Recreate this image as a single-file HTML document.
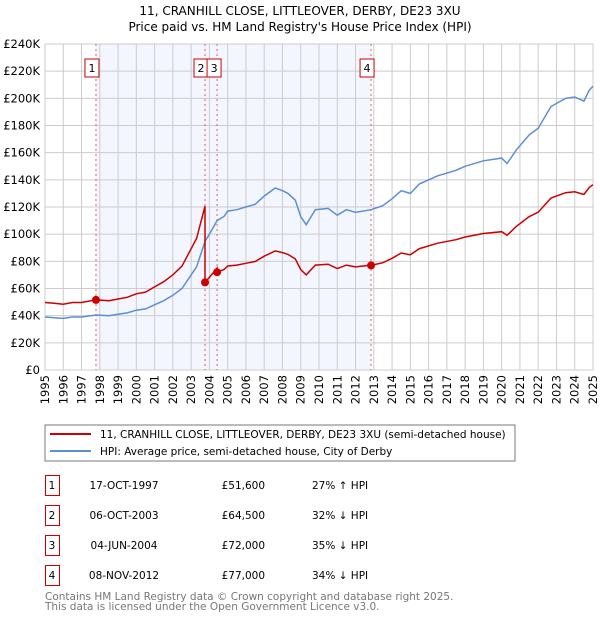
<!DOCTYPE html>
<html><head><meta charset="utf-8"><style>
body{margin:0;background:#fff;font-family:"DejaVu Sans","Liberation Sans",sans-serif}
svg text{font-family:"DejaVu Sans","Liberation Sans",sans-serif}
</style></head><body>
<svg id="chart" width="600" height="620" xmlns="http://www.w3.org/2000/svg">
<text x="300" y="15" text-anchor="middle" font-size="12">11, CRANHILL CLOSE, LITTLEOVER, DERBY, DE23 3XU</text>
<text x="300" y="31" text-anchor="middle" font-size="12">Price paid vs. HM Land Registry's House Price Index (HPI)</text>
<g id="plot"></g>
<rect x="45" y="425" width="470" height="36" fill="none" stroke="#777"/>
<line x1="50" y1="434" x2="91" y2="434" stroke="#cc0000" stroke-width="2"/>
<text x="100" y="438" font-size="10.5">11, CRANHILL CLOSE, LITTLEOVER, DERBY, DE23 3XU (semi-detached house)</text>
<line x1="50" y1="451" x2="91" y2="451" stroke="#5b8fd4" stroke-width="2"/>
<text x="100" y="455" font-size="10.5">HPI: Average price, semi-detached house, City of Derby</text>
<g id="table" font-size="10.5"></g>
<text x="45" y="600" font-size="10.5" fill="#777">Contains HM Land Registry data © Crown copyright and database right 2025.</text>
<text x="45" y="610" font-size="10.5" fill="#777">This data is licensed under the Open Government Licence v3.0.</text>
</svg>
<script>
const hpiYears=[1995,1995.5,1996,1996.5,1997,1997.8,1998.5,1999,1999.5,2000,2000.5,2001,2001.5,2002,2002.5,2003,2003.3,2003.77,2004,2004.42,2004.8,2005,2005.5,2006,2006.5,2007,2007.6,2008,2008.3,2008.7,2009,2009.3,2009.8,2010.5,2011,2011.5,2012,2012.85,2013.5,2014,2014.5,2015,2015.5,2016.5,2017.5,2018,2019,2020,2020.3,2020.8,2021.5,2022,2022.7,2023.5,2024,2024.5,2024.8,2025];
const hpiValues=[39,38.5,38,39,39,40.5,40,41,42,44,45,48,51,55,60,70,76,95,100,110,113,117,118,120,122,128,134,132,130,125,113,107,118,119,114,118,116,118,121,126,132,130,137,143,147,150,154,156,152,162,173,178,194,200,201,198,206,209];
const saleDates=[1997.79,2003.76,2004.42,2012.85];
const salePrices=[51.6,64.5,72,77];
const saleLabels=["1","2","3","4"];
const saleDateText=["17-OCT-1997","06-OCT-2003","04-JUN-2004","08-NOV-2012"];
const salePriceText=["£51,600","£64,500","£72,000","£77,000"];
const saleHpiText=["27% ↑ HPI","32% ↓ HPI","35% ↓ HPI","34% ↓ HPI"];
const yTicks=[0,20,40,60,80,100,120,140,160,180,200,220,240];
const xTicks=[1995,1996,1997,1998,1999,2000,2001,2002,2003,2004,2005,2006,2007,2008,2009,2010,2011,2012,2013,2014,2015,2016,2017,2018,2019,2020,2021,2022,2023,2024,2025];

const L=45,R=593,T=44,B=370;
const X=t=>L+(t-1995)/30*(R-L);
const Y=v=>B-v/240*(B-T);
const NS="http://www.w3.org/2000/svg";
const g=document.getElementById('plot');
function mk(tag,attrs,parent){const e=document.createElementNS(NS,tag);for(const k in attrs)e.setAttribute(k,attrs[k]);(parent||g).appendChild(e);return e;}
function hpiAt(t){for(let i=0;i<hpiYears.length-1;i++){if(t<=hpiYears[i+1]){const f=(t-hpiYears[i])/(hpiYears[i+1]-hpiYears[i]);return hpiValues[i]+f*(hpiValues[i+1]-hpiValues[i]);}}return hpiValues[hpiValues.length-1];}

let e=mk('rect',{x:X(saleDates[0]),y:T,width:X(saleDates[3])-X(saleDates[0]),height:B-T,fill:'#f3f6fe'});


yTicks.forEach(v=>{
 let l=mk('line',{x1:L,x2:R,y1:Y(v),y2:Y(v),stroke:'#ccc'});
 
 
 let t=mk('text',{x:L-5,y:Y(v)+4,'text-anchor':'end','font-size':'11.5'});
 
 
 t.textContent=v===0?'£0':'£'+v+'K';
});
xTicks.forEach(v=>{
 let l=mk('line',{x1:X(v),x2:X(v),y1:T,y2:B,stroke:'#ccc'});
 
 
 const tx=X(v)+4, ty=B+5;
 let t=mk('text',{x:tx,y:ty,'text-anchor':'end','font-size':'11.5',transform:'rotate(-90 '+tx+' '+ty+')'});
 
 
 t.textContent=v;
});
e=mk('rect',{x:L,y:T,width:R-L,height:B-T,fill:'none',stroke:'#ccc'});



const boxShift=[-4,-4,-3,-4];
saleDates.forEach((d,i)=>{
 let l=mk('line',{x1:X(d),x2:X(d),y1:T,y2:B,stroke:'#e06060','stroke-dasharray':'2,3'});
 
 
 const cx=X(d)+boxShift[i];
 let r=mk('rect',{x:cx-7,y:59,width:14,height:18,fill:'#fff',stroke:'#cc0000'});
 
 
 let t=mk('text',{x:cx,y:72,'text-anchor':'middle','font-size':'11'});
 
 
 t.textContent=saleLabels[i];
});

let pts=hpiYears.map((t,i)=>X(t).toFixed(1)+','+Y(hpiValues[i]).toFixed(1)).join(' ');
e=mk('polyline',{points:pts,fill:'none',stroke:'#5b8fd4','stroke-width':1.5});



let rp=[];
const r0=salePrices[0]/hpiAt(saleDates[0]);
hpiYears.forEach((t,i)=>{if(t<saleDates[1])rp.push([t,hpiValues[i]*r0]);});
rp.push([saleDates[1],hpiAt(saleDates[1])*r0]);
for(let s=1;s<saleDates.length;s++){
 const ratio=salePrices[s]/hpiAt(saleDates[s]);
 const end=s+1<saleDates.length?saleDates[s+1]:2025.1;
 rp.push([saleDates[s],salePrices[s]]);
 hpiYears.forEach((t,i)=>{if(t>saleDates[s]&&t<end)rp.push([t,hpiValues[i]*ratio]);});
 if(s+1<saleDates.length)rp.push([end,hpiAt(end)*ratio]);
}
e=mk('polyline',{points:rp.map(p=>X(p[0]).toFixed(1)+','+Y(p[1]).toFixed(1)).join(' '),fill:'none',stroke:'#cc0000','stroke-width':1.5});


saleDates.forEach((d,i)=>{
 let c=mk('circle',{cx:X(d),cy:Y(salePrices[i]),r:4,fill:'#cc0000'});
 
 
});

const tb=document.getElementById('table');
saleDates.forEach((d,i)=>{
 const y=475+i*30;
 let r=mk('rect',{x:45.5,y:y+0.5,width:14,height:20,fill:'none',stroke:'#cc0000'},tb);
 
 
 const cells=[[52,saleLabels[i],'middle','table-sale-number'],[124,saleDateText[i],'middle','table-sale-date'],[265,salePriceText[i],'end','table-sale-price'],[312,saleHpiText[i],'start','table-sale-hpi-diff']];
 cells.forEach(c=>{
  let t=mk('text',{x:c[0],y:y+14,'text-anchor':c[2]},tb);
  
  
  t.textContent=c[1];
 });
});
</script>
</body></html>
